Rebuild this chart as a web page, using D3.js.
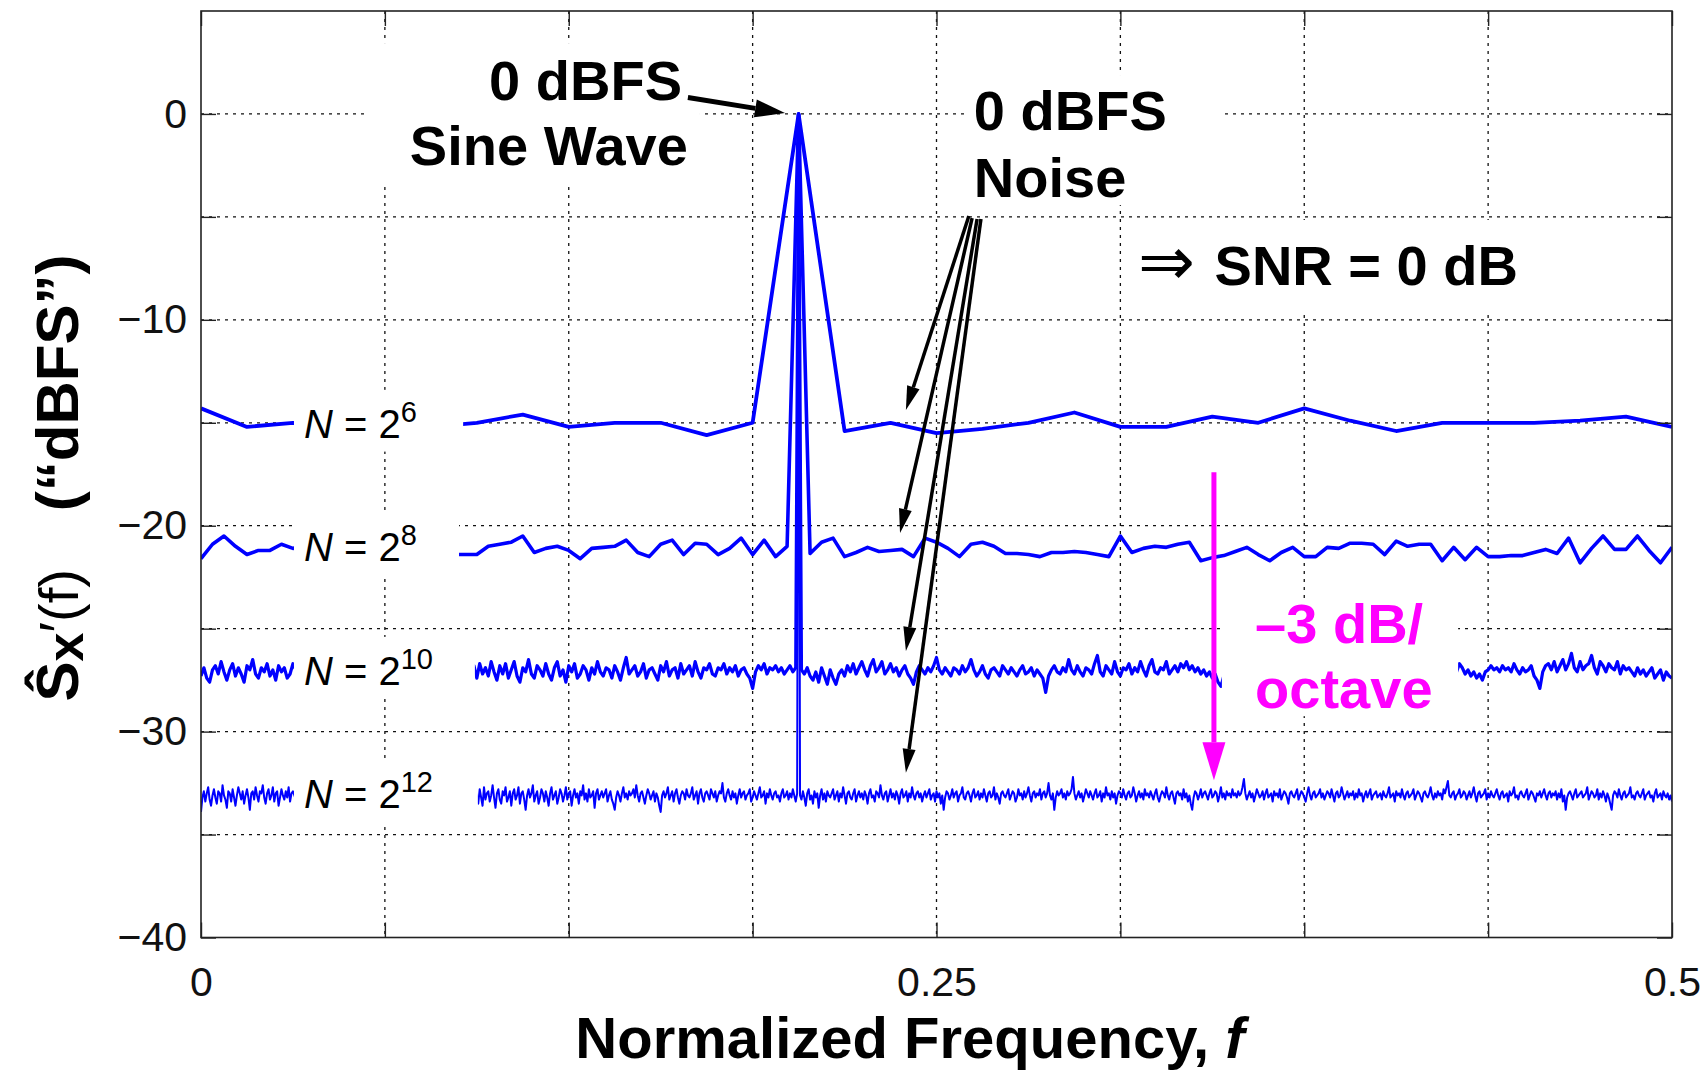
<!DOCTYPE html>
<html>
<head>
<meta charset="utf-8">
<script src="https://cdn.jsdelivr.net/npm/d3@7"></script>
<style>
  html, body { margin: 0; padding: 0; background: #fff; }
  svg { display: block; font-family: "Liberation Sans", Arial, Helvetica, sans-serif; }
</style>
</head>
<body>
<div class="viz"></div>
<script>
// periodogram levels (dBFS), bins evenly spaced from f = 0 to f = 0.5
const psd64 = [-14.3,-15.2,-15.0,-15.1,-14.8,-15.2,-15.0,-14.6,-15.2,-15.0,-15.0,-15.6,-15.0,0,-15.4,-15.0,-15.5,-15.3,-15.0,-14.5,
  -15.2,-15.2,-14.7,-15.0,-14.3,-14.9,-15.4,-15.0,-15.0,-15.0,-14.9,-14.7,-15.2]

const psd256 = [-21.6,-20.9,-20.5,-21.0,-21.4,-21.2,-21.2,-20.9,-21.1,
  -21.0,-21.3,-20.8,-21.2,-21.4,-20.9,-21.1,-21.3,-20.7,-21.2,-21.0,-21.4,-21.1,
  -21.4,-21.4,-21.4,-21.0,-20.9,-20.8,-20.5,-21.3,-21.1,-21.0,-21.2,-21.6,-21.1,
  -21.05,-21.0,-20.7,-21.3,-21.5,-20.9,-20.7,-21.4,-20.85,-20.9,-21.4,-21.1,-20.6,-21.4,-20.7,-21.5,-21.0,
  0,
  -21.35,-20.8,-20.6,-21.5,-21.3,-21.05,-21.25,-21.2,-21.15,-21.5,-20.6,-20.8,-21.1,-21.5,-20.9,-20.8,-21.0,-21.35,
  -21.35,-21.4,-21.5,-21.3,-21.3,-21.25,-21.3,-21.4,-21.5,-20.5,-21.3,-21.1,-21.0,-21.05,-20.9,-20.8,-21.7,
  -21.55,-21.45,-21.25,-21.05,-21.4,-21.7,-21.3,-21.05,-21.5,-21.5,-21.05,-21.1,-20.85,-20.85,-20.9,-21.4,-20.75,
  -21.0,-20.9,-20.9,-21.7,-21.05,-21.65,-21.05,-21.5,-21.5,-21.45,-21.45,-21.3,-21.15,-21.35,-20.6,-21.8,-21.1,
  -20.5,-21.15,-21.15,-20.5,-21.2,-21.8,-21.05]

const psd1024 = [
  -27.3,-26.9,-27.4,-27.6,-27.0,-26.8,-27.2,-26.6,-27.1,-27.5,-27.0,-26.7,-27.3,-26.9,-27.2,-27.6,-26.8,-27.0,-26.5,-27.2,
  -27.4,-26.9,-27.1,-26.7,-27.3,-27.0,-27.5,-26.8,-27.1,-26.9,-27.4,-27.2,-26.7,-27.0,-27.3,-26.8,-27.1,-27.4,-26.9,-27.0,
  -27.2,-26.8,-27.0,-27.3,-26.9,-27.1,-27.4,-26.8,-27.0,-27.2,-26.9,-27.3,-27.0,-26.7,-27.1,-27.4,-26.9,-27.0,-27.2,-26.8,
  -27.1,-27.3,-26.9,-27.0,-27.4,-26.8,-27.2,-27.0,-26.9,-27.3,-27.1,-26.8,-27.0,-27.2,-26.9,-27.4,-27.0,-26.8,-27.1,-27.3,
  -26.9,-27.0,-27.2,-26.8,-27.3,-27.1,-26.9,-27.0,-27.4,-26.8,-27.2,-27.0,-26.9,-27.3,-27.1,-26.8,-27.4,-26.7,-27.2,-26.9,
  -27.3,-26.6,-27.1,-27.5,-26.8,-27.2,-26.7,-27.4,-27.0,-26.6,-27.3,-27.6,-26.9,-27.1,-26.5,-27.2,-27.4,-26.8,-27.0,-27.3,
  -26.7,-27.2,-27.5,-26.9,-26.6,-27.3,-27.0,-27.6,-26.8,-27.1,-26.7,-27.4,-27.2,-26.8,-27.0,-27.5,-26.9,-27.2,-26.6,-27.1,
  -27.3,-26.9,-27.0,-27.4,-26.8,-27.1,-27.5,-26.9,-26.4,-27.2,-27.0,-26.8,-27.3,-27.1,-26.7,-27.4,-27.0,-26.9,-27.2,-27.5,
  -26.8,-27.1,-26.6,-27.3,-27.0,-26.9,-27.4,-26.7,-27.2,-27.0,-26.8,-27.3,-26.6,-27.1,-27.4,-26.9,-27.0,-26.7,-27.2,-27.3,
  -26.9,-27.0,-26.7,-27.2,-26.9,-27.1,-26.8,-27.3,-27.0,-26.9,-27.2,-27.4,-27.9,-27.1,-26.8,-27.0,-26.7,-27.2,-26.9,-27.0,
  -26.8,-27.1,-26.9,-27.2,-27.0,-26.8,-27.1,-26.9,0,-27.0,-27.2,-26.9,-27.3,-27.5,-27.1,-27.6,-26.9,-27.3,-27.7,-27.0,
  -27.4,-27.7,-27.2,-27.0,-27.3,-26.8,-27.1,-26.7,-27.2,-26.9,-26.6,-27.0,-27.3,-26.8,-26.5,-27.1,-26.9,-26.6,-27.2,-27.0,
  -26.7,-27.1,-26.9,-27.3,-27.0,-26.8,-27.2,-27.4,-27.7,-27.1,-26.8,-27.0,-27.2,-26.9,-27.1,-26.8,-26.4,-27.0,-27.2,-26.9,
  -27.1,-27.3,-26.9,-27.0,-27.2,-26.8,-27.1,-26.9,-26.5,-27.0,-27.3,-27.1,-26.8,-27.2,-27.4,-27.0,-26.9,-27.1,-27.3,-26.8,
  -27.0,-27.2,-26.9,-27.1,-27.3,-27.0,-26.8,-27.2,-27.1,-26.9,-27.3,-27.0,-27.2,-27.4,-28.1,-27.3,-27.0,-26.8,-27.1,-27.2,
  -26.9,-27.1,-26.5,-27.0,-27.2,-26.8,-27.1,-27.3,-26.9,-27.0,-27.2,-26.7,-26.3,-27.1,-27.3,-26.8,-27.0,-27.2,-26.6,-27.1,
  -27.3,-26.9,-27.0,-26.7,-27.2,-26.9,-27.1,-26.6,-27.0,-27.3,-26.8,-26.5,-27.1,-27.2,-26.9,-27.0,-26.6,-27.2,-27.0,-26.8,
  -27.1,-26.7,-26.9,-26.6,-27.0,-26.8,-27.1,-26.9,-27.2,-27.0,-27.3,-27.1,-27.4,-27.2,-27.6,-27.8,-27.3,-27.0,-26.9,-27.2,
  -27.0,-26.8,-27.1,-27.3,-26.9,-27.0,-27.2,-26.8,-27.1,-26.9,-27.3,-27.0,-26.8,-27.2,-27.1,-26.9,-27.0,-27.3,-26.8,-27.1,
  -27.2,-26.9,-27.0,-27.3,-26.8,-27.1,-27.0,-26.9,-27.2,-27.1,-26.8,-27.0,-27.3,-26.9,-27.1,-27.2,-26.8,-27.0,-27.1,-26.9,
  -27.0,-27.2,-26.9,-27.1,-27.3,-26.8,-27.0,-27.2,-26.9,-27.1,-27.0,-26.8,-27.3,-27.1,-26.9,-27.0,-27.2,-26.8,-27.1,-27.0,
  -26.9,-27.1,-27.0,-27.2,-26.8,-27.0,-27.3,-26.9,-27.1,-27.0,-26.8,-27.2,-27.0,-26.9,-27.1,-27.0,-26.8,-27.1,-26.7,-26.9,
  -27.2,-27.0,-27.3,-27.1,-27.4,-27.2,-27.5,-27.1,-27.0,-26.8,-27.0,-26.9,-27.1,-26.8,-27.0,-26.9,-27.1,-26.7,-27.0,-27.2,
  -26.9,-27.1,-27.0,-26.8,-27.3,-27.5,-27.9,-27.1,-26.8,-26.7,-27.0,-26.6,-27.1,-26.8,-26.5,-27.0,-26.7,-26.2,-26.9,-27.1,
  -26.6,-27.0,-26.8,-26.7,-26.3,-26.9,-27.2,-26.6,-26.8,-27.1,-26.7,-26.9,-27.0,-26.6,-27.2,-26.8,-27.0,-26.9,-27.1,-27.3,
  -26.9,-27.2,-27.0,-27.3,-27.1,-26.9,-27.4,-27.2,-27.0,-27.5,-27.1,-27.3,-27.4]

// every second bin of the 4096-point estimate
const psd4096 = [
  -33.9,-33.2,-32.9,-33.4,-33.0,-32.7,-33.3,-33.6,-33.1,-32.8,-33.2,-33.5,-32.9,-33.0,-33.4,-32.6,-33.1,-33.3,-33.7,-32.9,
  -33.0,-33.4,-32.8,-33.2,-33.6,-33.1,-32.7,-33.0,-33.3,-32.9,-33.5,-33.1,-32.8,-33.2,-33.8,-33.0,-32.9,-33.3,-32.7,-33.1,
  -33.4,-32.9,-33.0,-32.6,-33.2,-33.5,-33.0,-32.8,-33.3,-33.1,-32.7,-33.4,-33.0,-32.9,-33.6,-33.2,-32.8,-33.1,-33.3,-32.9,
  -33.2,-32.7,-33.4,-33.0,-32.9,-33.1,-33.3,-32.8,-33.0,-33.2,-33.1,-32.9,-33.0,-33.3,-33.1,-32.8,-33.2,-33.0,-33.1,-32.9,
  -33.0,-33.2,-33.1,-32.9,-33.3,-33.0,-33.1,-32.8,-33.2,-33.0,-33.1,-33.3,-32.9,-33.0,-33.2,-33.1,-32.9,-33.0,-33.3,-33.1,
  -32.9,-33.1,-33.0,-33.2,-33.1,-32.8,-33.0,-33.3,-33.1,-32.9,-33.2,-33.0,-33.1,-32.9,-33.3,-33.0,-33.1,-33.2,-32.9,-33.0,
  -33.1,-33.0,-33.2,-32.9,-33.1,-33.3,-33.0,-32.9,-33.2,-33.1,-33.0,-32.8,-33.2,-33.1,-33.0,-33.3,-32.9,-33.1,-33.0,-33.2,
  -33.0,-33.1,-32.9,-33.2,-33.0,-33.1,-33.3,-32.9,-33.0,-33.2,-33.1,-32.9,-33.0,-33.3,-33.1,-33.0,-32.8,-33.2,-33.1,-33.0,
  -33.2,-32.9,-33.1,-33.0,-33.3,-33.1,-32.9,-33.0,-33.2,-33.1,-32.8,-33.0,-33.2,-33.1,-33.0,-32.9,-33.3,-33.1,-33.0,-33.2,
  -33.1,-32.9,-33.0,-33.2,-33.1,-33.0,-32.9,-33.2,-33.1,-33.0,-33.3,-32.9,-33.1,-33.5,-32.8,-33.2,-33.6,-32.7,-33.3,-33.0,
  -32.9,-33.4,-33.1,-32.6,-33.2,-33.7,-33.0,-32.8,-33.3,-33.5,-32.9,-33.1,-32.7,-33.4,-33.2,-32.9,-33.6,-33.0,-32.8,-33.3,
  -33.1,-32.7,-33.5,-33.0,-32.9,-33.3,-33.8,-33.1,-32.8,-33.2,-33.0,-32.6,-33.4,-33.1,-32.9,-33.5,-33.2,-32.8,-33.0,-33.4,
  -32.9,-33.2,-33.6,-33.0,-32.7,-33.3,-33.1,-32.9,-33.5,-33.2,-32.8,-33.0,-33.4,-33.1,-32.7,-33.3,-33.0,-32.9,-33.6,-33.1,
  -32.8,-33.2,-33.0,-33.5,-32.9,-33.1,-32.6,-33.3,-33.0,-33.4,-32.8,-33.2,-33.1,-32.9,-33.7,-33.0,-32.8,-33.3,-33.1,-32.9,
  -33.2,-33.0,-32.8,-33.4,-33.1,-32.9,-33.3,-33.5,-33.8,-33.2,-32.9,-33.1,-33.4,-33.0,-32.7,-33.2,-33.0,-33.3,-32.9,-33.1,
  -33.0,-32.8,-33.2,-32.6,-33.1,-33.4,-33.0,-32.9,-33.2,-33.5,-33.1,-32.8,-33.0,-33.3,-33.1,-32.9,-33.4,-33.0,-33.2,-33.6,
  -33.9,-33.1,-32.9,-33.2,-33.0,-32.7,-33.3,-33.1,-32.9,-33.4,-33.0,-32.8,-33.2,-33.5,-33.1,-32.9,-33.0,-33.3,-32.8,-33.1,
  -33.2,-33.0,-32.7,-33.3,-33.1,-32.9,-33.5,-33.0,-32.8,-33.2,-33.4,-33.0,-32.9,-33.1,-33.3,-32.8,-33.0,-33.2,-32.9,-33.4,
  -33.1,-32.9,-33.0,-32.5,-33.2,-33.4,-33.0,-32.8,-33.1,-33.3,-32.9,-33.2,-33.0,-33.5,-33.1,-32.8,-33.2,-33.0,-32.9,-33.3,
  -33.1,-33.0,-32.8,-33.4,-33.2,-32.9,-33.1,-33.3,-33.0,-32.7,-33.2,-33.1,-32.9,-33.5,-33.0,-33.2,-32.8,-33.1,-33.3,-33.0,
  -32.9,-33.2,-33.1,-33.4,-33.0,-32.8,-33.2,-33.1,-32.9,-33.3,-33.0,-33.2,-32.8,-33.1,-33.4,-33.0,0,-33.1,-33.3,-32.9,
  -33.2,-33.6,-33.0,-32.8,-33.3,-33.1,-33.5,-32.9,-33.2,-33.0,-33.7,-33.1,-32.8,-33.3,-33.0,-33.4,-32.9,-33.1,-33.2,-33.0,
  -32.8,-33.3,-33.1,-32.9,-33.4,-33.0,-33.2,-32.7,-33.1,-33.5,-33.0,-32.9,-33.2,-33.3,-33.0,-32.8,-33.4,-33.1,-32.9,-33.2,
  -33.0,-33.3,-32.9,-33.1,-33.5,-33.0,-32.8,-33.2,-33.1,-33.4,-32.9,-33.0,-33.2,-32.6,-33.1,-33.3,-33.0,-32.9,-33.4,-33.1,
  -32.8,-33.2,-33.0,-33.3,-32.9,-33.1,-33.5,-33.0,-32.8,-33.2,-33.1,-32.9,-33.4,-33.0,-33.2,-32.7,-33.1,-33.3,-33.0,-32.9,
  -33.2,-33.0,-33.4,-33.1,-32.9,-33.2,-33.0,-32.8,-33.3,-33.1,-33.0,-33.4,-32.9,-33.2,-33.0,-33.5,-33.1,-33.8,-33.2,-32.9,
  -33.0,-33.3,-33.1,-32.8,-33.2,-33.0,-32.9,-33.4,-33.1,-33.0,-32.7,-33.2,-33.3,-33.0,-32.9,-33.1,-33.4,-33.0,-32.8,-33.2,
  -33.1,-32.9,-33.3,-33.0,-33.2,-32.8,-33.1,-33.4,-33.0,-32.9,-33.2,-33.1,-32.7,-33.3,-33.0,-33.2,-33.5,-33.0,-32.9,-33.1,
  -33.2,-33.0,-32.8,-33.3,-33.1,-32.9,-33.0,-33.4,-33.2,-32.8,-33.1,-33.0,-33.3,-32.9,-33.2,-33.0,-32.7,-33.1,-33.4,-33.0,
  -32.9,-33.2,-33.0,-33.1,-32.8,-33.3,-33.0,-32.9,-33.2,-33.0,-32.5,-33.1,-33.3,-33.0,-33.8,-33.2,-32.9,-33.1,-33.0,-32.8,
  -33.2,-33.0,-33.3,-32.9,-33.1,-33.0,-32.8,-32.2,-33.0,-33.3,-33.1,-32.9,-33.2,-33.0,-33.4,-33.1,-32.8,-33.0,-33.2,-32.9,
  -33.1,-33.3,-33.0,-32.8,-33.2,-33.1,-32.9,-33.4,-33.0,-33.2,-32.7,-33.1,-33.0,-33.3,-32.9,-33.2,-33.0,-33.5,-33.1,-32.9,
  -33.0,-33.2,-32.8,-33.1,-33.3,-33.0,-32.9,-33.2,-33.1,-32.7,-33.0,-33.4,-33.1,-32.9,-33.2,-33.0,-33.3,-32.8,-33.1,-33.0,
  -33.2,-32.9,-33.1,-33.3,-33.0,-32.8,-33.2,-33.4,-33.1,-32.9,-33.0,-33.2,-32.7,-33.1,-33.3,-33.0,-32.9,-33.2,-33.5,-33.0,
  -32.9,-33.1,-33.0,-33.3,-32.8,-33.2,-33.0,-33.4,-33.1,-33.5,-33.8,-33.2,-32.9,-33.0,-33.3,-33.1,-32.8,-33.2,-33.0,-32.9,
  -33.1,-33.3,-33.0,-32.8,-33.2,-33.1,-32.9,-33.0,-33.4,-33.1,-32.7,-33.2,-33.0,-33.3,-32.9,-33.1,-33.0,-33.2,-32.8,-33.1,
  -33.0,-33.2,-32.9,-33.1,-33.0,-32.7,-32.3,-33.0,-33.3,-33.1,-32.9,-33.2,-33.0,-33.4,-33.1,-32.8,-33.0,-33.2,-33.1,-32.9,
  -33.3,-33.0,-32.8,-33.2,-33.1,-33.0,-33.4,-32.9,-33.1,-33.0,-33.2,-32.8,-33.3,-33.1,-32.9,-33.0,-33.2,-33.5,-33.0,-32.9,
  -33.1,-33.2,-33.0,-32.8,-33.3,-33.1,-32.9,-33.0,-33.2,-33.4,-33.0,-32.7,-33.1,-33.3,-33.0,-32.9,-33.2,-33.1,-33.0,-32.8,
  -33.2,-33.0,-33.3,-33.1,-32.9,-33.0,-33.2,-32.8,-33.1,-33.4,-33.0,-32.9,-33.2,-33.1,-32.7,-33.0,-33.3,-33.1,-32.9,-33.2,
  -33.0,-33.1,-32.9,-33.3,-33.0,-33.2,-32.8,-33.1,-33.0,-33.4,-33.1,-32.9,-33.2,-33.0,-32.8,-33.3,-33.1,-33.0,-32.9,-33.2,
  -33.1,-33.0,-33.3,-32.9,-33.1,-33.2,-33.0,-32.7,-33.2,-33.1,-33.0,-33.4,-32.9,-33.1,-33.0,-33.2,-32.8,-33.1,-33.3,-33.0,
  -32.9,-33.2,-33.1,-33.0,-32.8,-33.3,-33.1,-32.9,-33.0,-33.2,-33.4,-33.0,-32.9,-33.1,-33.2,-33.0,-32.7,-33.1,-33.3,-33.0,
  -33.2,-32.9,-33.1,-33.0,-33.3,-32.8,-33.0,-32.7,-32.4,-33.1,-33.2,-33.0,-32.9,-33.3,-33.1,-33.0,-32.8,-33.2,-33.1,-32.9,
  -33.0,-33.3,-33.1,-32.9,-33.2,-33.0,-32.7,-33.1,-33.4,-33.0,-32.9,-33.2,-33.1,-33.0,-32.8,-33.3,-33.0,-33.2,-32.9,-33.1,
  -33.2,-33.0,-32.8,-33.1,-33.3,-33.0,-32.9,-33.2,-33.1,-33.0,-33.4,-32.9,-33.1,-33.0,-32.7,-33.2,-33.1,-33.3,-33.0,-32.9,
  -33.1,-33.2,-33.0,-32.8,-33.3,-33.1,-32.9,-33.0,-33.2,-33.4,-33.0,-33.1,-32.9,-33.2,-33.0,-32.8,-33.1,-33.3,-33.0,-32.9,
  -33.2,-33.0,-33.1,-32.9,-33.3,-33.0,-33.2,-32.8,-33.4,-33.1,-33.8,-33.2,-33.0,-32.9,-33.1,-33.3,-33.0,-32.8,-33.2,-33.1,
  -33.0,-32.9,-33.2,-33.1,-33.0,-32.7,-33.3,-33.1,-32.9,-33.0,-33.2,-33.1,-32.8,-33.3,-33.0,-33.2,-32.9,-33.1,-33.4,-33.0,
  -33.2,-33.5,-33.8,-33.1,-32.9,-33.0,-33.2,-32.8,-33.1,-33.3,-33.0,-32.9,-33.2,-33.1,-33.0,-32.7,-33.2,-33.1,-33.3,-33.0,
  -32.9,-33.1,-33.2,-33.0,-32.8,-33.3,-33.1,-33.0,-32.9,-33.2,-33.1,-33.4,-33.0,-32.8,-33.2,-33.1,-33.0,-33.3,-32.9,-33.1,
  -33.2,-33.0,-33.3,-33.1,-33.4]

const seriesList = [psd64, psd256, psd1024, psd4096]
const seriesExp = ['6', '8', '10', '12']
const seriesLevel = [-15, -21, -27, -33]        // where each N label sits
const seriesWidth = [3.8, 3.6, 3.2, 2]

const xTicks = [0, 0.0625, 0.125, 0.1875, 0.25, 0.3125, 0.375, 0.4375, 0.5]
const xTickLabels = [0, 0.25, 0.5]
const yTicks = [-40, -35, -30, -25, -20, -15, -10, -5, 0]
const yTickLabels = [-40, -30, -20, -10, 0]

// ---------- layout
const W = 1706, H = 1074
const m = { left: 201, top: 11, right: 34, bottom: 136.5 }
const iw = W - m.left - m.right
const ih = H - m.top - m.bottom
const blue = '#0000ff', magenta = '#ff00ff'

const svg = d3.select('.viz').append('svg')
  .attr('width', W).attr('height', H)

const x = d3.scaleLinear().domain([0, 0.5]).range([0, iw])
const y = d3.scaleLinear().domain([-40, 5]).range([ih, 0])

const g = svg.append('g').attr('transform', `translate(${m.left},${m.top})`)

svg.append('defs').append('clipPath').attr('id', 'plotclip')
  .append('rect').attr('width', iw).attr('height', ih)

// dotted grid
const gridStyle = s => s.attr('stroke', '#111').attr('stroke-width', 1.3).attr('stroke-dasharray', '3,5')
g.append('g').selectAll('line')
  .data(xTicks.filter(d => d > 0 && d < 0.5)).enter().append('line')
  .attr('x1', d => x(d)).attr('x2', d => x(d)).attr('y1', 0).attr('y2', ih)
  .call(gridStyle)
g.append('g').selectAll('line')
  .data(yTicks.filter(d => d > -40)).enter().append('line')
  .attr('y1', d => y(d)).attr('y2', d => y(d)).attr('x1', 0).attr('x2', iw)
  .call(gridStyle)

// spectra
const line = d3.line().x(d => x(d.f)).y(d => y(d.v))
g.append('g').attr('clip-path', 'url(#plotclip)')
  .selectAll('path')
  .data(seriesList.map((arr, k) => ({
    k,
    pts: arr.map((v, i) => ({ f: 0.5 * i / (arr.length - 1), v }))
  }))).enter().append('path')
  .attr('d', d => line(d.pts))
  .attr('fill', 'none')
  .attr('stroke', blue)
  .attr('stroke-width', d => seriesWidth[d.k])
  .attr('stroke-linejoin', 'round')

// white patches under the annotations, in data units [f0, f1, dBtop, dBbottom]
const boxes = [
  [0.0564, 0.1696, 3.44, -3.36],
  [0.2600, 0.3464, 1.89, -4.43],
  [0.3158, 0.4518, -5.15, -9.68],
  [0.3470, 0.4273, -23.52, -29.25]
]
const labelEnd = [0.0891, 0.0877, 0.0931, 0.0941]
seriesLevel.forEach((lv, k) => boxes.push([0.0316, labelEnd[k], lv + 1.6, lv - 1.4]))

g.append('g').selectAll('rect')
  .data(boxes).enter().append('rect')
  .attr('x', d => x(d[0])).attr('width', d => x(d[1]) - x(d[0]))
  .attr('y', d => y(d[2])).attr('height', d => y(d[3]) - y(d[2]))
  .attr('fill', '#fff')

// N = 2^k labels
const nLab = g.append('g').selectAll('text')
  .data(seriesLevel).enter().append('text')
  .attr('x', x(0.035)).attr('y', d => y(d - 0.72))
  .attr('font-size', 40)
nLab.append('tspan').attr('font-style', 'italic').text('N')
nLab.append('tspan').text(' = 2')
nLab.append('tspan').attr('font-size', 29).attr('dy', -16).text((d, i) => seriesExp[i])

// frame and inward ticks
g.append('rect').attr('width', iw).attr('height', ih)
  .attr('fill', 'none').attr('stroke', '#222').attr('stroke-width', 1.6)

const fmtX = d => xTickLabels.includes(d) ? String(d) : ''
const fmtY = d => yTickLabels.includes(d) ? (d < 0 ? '\u2212' + (-d) : String(d)) : ''
const axes = [
  g.append('g').attr('transform', `translate(0,${ih})`)
    .call(d3.axisBottom(x).tickValues(xTicks).tickSize(-15).tickPadding(29).tickFormat(fmtX)),
  g.append('g')
    .call(d3.axisTop(x).tickValues(xTicks).tickSize(-15).tickFormat('')),
  g.append('g')
    .call(d3.axisLeft(y).tickValues(yTicks).tickSize(-15).tickPadding(14).tickFormat(fmtY)),
  g.append('g').attr('transform', `translate(${iw},0)`)
    .call(d3.axisRight(y).tickValues(yTicks).tickSize(-15).tickFormat(''))
]
axes.forEach(a => {
  a.select('.domain').remove()
  a.selectAll('.tick line').attr('stroke', '#222').attr('stroke-width', 1.4)
  a.selectAll('.tick text').attr('font-size', 41).attr('fill', '#111')
    .attr('font-family', '"Liberation Sans", Arial, Helvetica, sans-serif')
})

// arrows
function arrow(sel, p0, p1, w, hl, hw, col) {
  const x1 = x(p0[0]), y1 = y(p0[1]), x2 = x(p1[0]), y2 = y(p1[1])
  const a = Math.atan2(y2 - y1, x2 - x1)
  const bx = x2 - hl * Math.cos(a), by = y2 - hl * Math.sin(a)
  const px = Math.sin(a) * hw / 2, py = -Math.cos(a) * hw / 2
  sel.append('line').attr('x1', x1).attr('y1', y1).attr('x2', bx).attr('y2', by)
    .attr('stroke', col).attr('stroke-width', w)
  sel.append('path').attr('d', `M${x2},${y2}L${bx + px},${by + py}L${bx - px},${by - py}Z`).attr('fill', col)
}
const ann = g.append('g')
arrow(ann, [0.1655, 0.8], [0.1985, 0.04], 5, 30, 18, '#000')
const noiseFrom = [[0.2610, -4.96], [0.2621, -5.06], [0.2638, -5.1], [0.2651, -5.1]]
const noiseTo = [[0.2396, -14.38], [0.2376, -20.35], [0.2396, -26.08], [0.2396, -32.0]]
noiseFrom.forEach((p, i) => arrow(ann, p, noiseTo[i], 3.5, 24, 13, '#000'))
arrow(ann, [0.3443, -17.4], [0.3443, -32.36], 5, 38, 23, magenta)

// annotation text
const txt = (f, v, s, opts = {}) => ann.append('text')
  .attr('x', x(f)).attr('y', y(v))
  .attr('font-size', opts.size || 56)
  .attr('font-weight', 'bold')
  .attr('text-anchor', opts.anchor || 'start')
  .attr('fill', opts.fill || '#000')
  .text(s)
txt(0.1635, 0.67, '0 dBFS', { anchor: 'end' })
txt(0.1655, -2.48, 'Sine Wave', { anchor: 'end' })
txt(0.2627, -0.78, '0 dBFS')
txt(0.2627, -4.04, 'Noise')
const snr = txt(0.3185, -8.31, '')
snr.append('tspan').attr('font-weight', 'normal').attr('font-size', 68)
  .attr('font-family', '"DejaVu Sans", sans-serif').text('\u21d2')
snr.append('tspan').attr('dx', 4).text(' SNR = 0 dB')
txt(0.3583, -25.7, '\u20133 dB/', { fill: magenta })
txt(0.3583, -28.85, 'octave', { fill: magenta })

// axis titles
const xt = svg.append('text')
  .attr('x', 910).attr('y', 1058)
  .attr('text-anchor', 'middle').attr('font-size', 58).attr('font-weight', 'bold')
xt.append('tspan').text('Normalized Frequency, ')
xt.append('tspan').attr('font-style', 'italic').text('f')

const yt = svg.append('text')
  .attr('transform', 'translate(78,478) rotate(-90)')
  .attr('text-anchor', 'middle').attr('font-size', 60).attr('font-weight', 'bold')
yt.append('tspan').text('\u015c')
yt.append('tspan').attr('font-size', 52).attr('dy', 5).text('x')
yt.append('tspan').attr('font-weight', 'normal').attr('font-size', 56).attr('dy', -5).text('\u2032(f)')
yt.append('tspan').attr('dx', 58).text('(\u201cdBFS\u201d)')
</script>
</body>
</html>
